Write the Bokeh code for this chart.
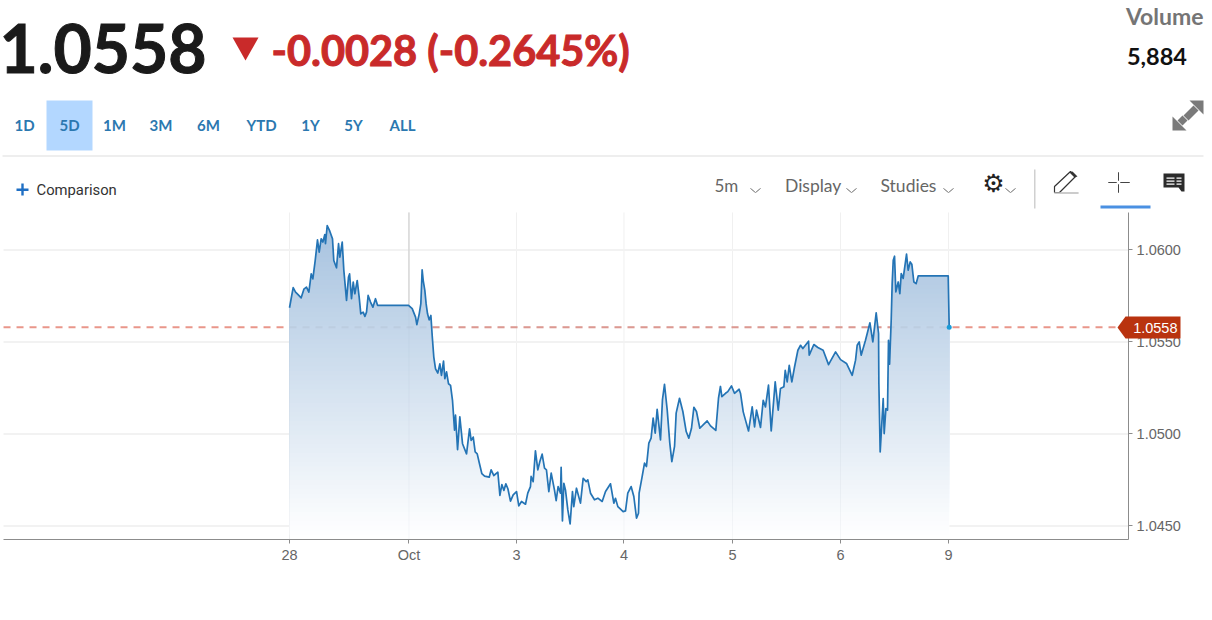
import numpy as np
from bokeh.plotting import figure
from bokeh.embed import file_html
from bokeh.resources import INLINE
from bokeh.models import Label, PolyAnnotation, FixedTicker, PrintfTickFormatter, Range1d

# x is a position in trading days after the "28" tick
days_a = [0,.015,.034,.056,.077,.108,.133,.157,.179,.201,.216,.238,.259,.275,.293,.309,.327,.333,.349,.373,.398,.410,.435,.454,.466,.488,.503,.528,.546,.556,.574,.590,.605,.627,.645,.660,.682,.698,.713,.728,.750,.772,.796,.815,1.102,1.136,1.167,1.179,1.201,1.216,1.228,1.238,1.253,1.265,1.278,1.293,1.309,1.321,1.336,1.352,1.373,1.392,1.407,1.426,1.438,1.454,1.472,1.491,1.509,1.528,1.537,1.556,1.577,1.602,1.639,1.667,1.682,1.701,1.719,1.738,1.759,1.781,1.806,1.849,1.867,1.892,1.929,1.948,1.966,1.985,2.003,2.022,2.046]
price_a = [1.05686,1.05735,1.05795,1.05771,1.05759,1.05740,1.05787,1.05798,1.05771,1.05870,1.05843,1.05943,1.06055,1.05988,1.06061,1.06043,1.06084,1.06034,1.06133,1.06102,1.06061,1.05943,1.05903,1.06034,1.05961,1.06043,1.05889,1.05726,1.05852,1.05870,1.05735,1.05825,1.05762,1.05834,1.05744,1.05653,1.05662,1.05639,1.05662,1.05753,1.05717,1.05689,1.05735,1.05699,1.05699,1.05681,1.05635,1.05594,1.05653,1.05708,1.05892,1.05834,1.05780,1.05707,1.05653,1.05620,1.05644,1.05535,1.05418,1.05354,1.05331,1.05381,1.05318,1.05396,1.05300,1.05337,1.05273,1.05264,1.05183,1.05020,1.05102,1.04915,1.05093,1.04947,1.04892,1.05028,1.04965,1.04983,1.04902,1.04892,1.04838,1.04784,1.04771,1.04765,1.04805,1.04774,1.04792,1.04666,1.04725,1.04693,1.04729,1.04702,1.04635]
days_b = [2.071,2.102,2.123,2.148,2.185,2.206,2.231,2.237,2.256,2.277,2.299,2.318,2.339,2.361,2.379,2.401,2.423,2.453,2.469,2.487,2.509,2.515,2.527,2.540,2.555,2.577,2.598,2.620,2.632,2.657,2.694,2.719,2.747,2.762,2.787,2.824,2.855,2.895,2.926,2.972,3.003,3.018,3.040,3.065,3.089,3.111,3.132,3.163,3.188,3.213,3.231,3.237,3.265,3.287,3.305,3.327,3.348,3.367,3.386,3.404,3.435,3.453,3.472,3.497,3.521,3.540,3.565,3.580,3.611,3.642,3.673,3.697,3.722,3.744,3.768,3.799,3.830,3.867,3.898,3.947,3.972,3.990,4.003,4.037,4.058,4.092,4.120,4.163]
price_b = [1.04669,1.04687,1.04609,1.04633,1.04618,1.04678,1.04714,1.04769,1.04741,1.04908,1.04805,1.04850,1.04890,1.04814,1.04805,1.04687,1.04787,1.04696,1.04638,1.04714,1.04678,1.04819,1.04527,1.04732,1.04696,1.04587,1.04511,1.04687,1.04605,1.04705,1.04624,1.04759,1.04741,1.04750,1.04678,1.04642,1.04651,1.04633,1.04687,1.04729,1.04624,1.04650,1.04605,1.04591,1.04578,1.04582,1.04678,1.04714,1.04660,1.04542,1.04569,1.04678,1.04768,1.04841,1.04823,1.04950,1.04977,1.05086,1.05004,1.05134,1.04968,1.05185,1.05270,1.05131,1.04950,1.04850,1.04932,1.05113,1.05194,1.05122,1.05013,1.04977,1.05031,1.05145,1.05122,1.05031,1.05049,1.05071,1.05044,1.05019,1.05194,1.05258,1.05203,1.05221,1.05230,1.05261,1.05221,1.05243]
days_c = [4.176,4.201,4.222,4.250,4.284,4.306,4.324,4.361,4.386,4.407,4.435,4.460,4.497,4.525,4.546,4.577,4.590,4.608,4.627,4.651,4.676,4.707,4.732,4.753,4.806,4.812,4.855,4.892,4.941,4.991,5.056,5.102,5.157,5.210,5.241,5.256,5.275,5.293,5.333,5.349,5.374,5.401,5.432,5.454,5.457,5.469,5.497,5.506,5.522,5.537,5.546,5.556,5.571,5.580,5.590,5.602,5.614,5.636,5.651,5.664,5.682,5.713,5.728,5.747,5.762,5.781,5.802,5.821,6.099,6.108]
price_c = [1.05220,1.05120,1.05075,1.05016,1.05147,1.05038,1.05129,1.05035,1.05183,1.05147,1.05265,1.05016,1.05283,1.05129,1.05247,1.05256,1.05346,1.05283,1.05373,1.05283,1.05364,1.05455,1.05482,1.05464,1.05504,1.05428,1.05486,1.05470,1.05455,1.05377,1.05446,1.05404,1.05383,1.05319,1.05401,1.05482,1.05500,1.05428,1.05509,1.05546,1.05604,1.05500,1.05658,1.05546,1.05274,1.04902,1.05192,1.05002,1.05138,1.05129,1.05509,1.05379,1.05618,1.05817,1.05944,1.05966,1.05772,1.05826,1.05763,1.05872,1.05845,1.05977,1.05890,1.05935,1.05923,1.05826,1.05817,1.05859,1.05859,1.05580]

tick_days = [0, 1.106, 2.102, 3.097, 4.102, 5.102, 6.102]
tick_labels = ["28", "Oct", "3", "4", "5", "6", "9"]
price_ticks = [1.0450, 1.0500, 1.0550, 1.0600]
last_price = 1.0558
range_tabs = ["1D", "5D", "1M", "3M", "6M", "YTD", "1Y", "5Y", "ALL"]

days = np.array(days_a + days_b + days_c)
prices = np.array(price_a + price_b + price_c)

W, H = 1212, 620
x_lo, x_hi = -2.648, 7.769   # extents of the plot box, in days
y0, y1 = 1.04427, 1.06204    # extents of the plot box, in price
p = figure(width=W, height=H, output_backend="svg", toolbar_location=None,
           x_range=Range1d(-2.676, 8.546), y_range=Range1d(1.03986, 1.07356),
           y_axis_location="right", min_border=0,
           outline_line_color=None, background_fill_color="white")
p.grid.visible = False

# axes
p.xaxis.ticker = FixedTicker(ticks=tick_days)
p.xaxis.major_label_overrides = dict(zip(tick_days, tick_labels))
p.yaxis.ticker = FixedTicker(ticks=price_ticks)
p.yaxis.formatter = PrintfTickFormatter(format="%.4f")
p.xaxis.fixed_location = y0
p.yaxis.fixed_location = x_hi
p.xaxis.bounds = (x_lo, x_hi)
p.yaxis.bounds = (y0, y1)
for ax in (p.xaxis[0], p.yaxis[0]):
    ax.axis_line_color = "#8c8c8c"
    ax.major_tick_line_color = "#8c8c8c"
    ax.major_tick_in = 0
    ax.major_tick_out = 4
    ax.minor_tick_line_color = None
    ax.major_label_text_font = "Liberation Sans"
    ax.major_label_text_font_size = "14.5px"
    ax.major_label_text_color = "#666666"
    ax.major_label_standoff = 4

n = len(tick_days)
p.segment(tick_days, [y0] * n, tick_days, [y1] * n, line_color="#f0f0f0", line_width=1, level="underlay")
m = len(price_ticks)
p.segment([x_lo] * m, price_ticks, [x_hi] * m, price_ticks, line_color="#f2f2f2", line_width=2, level="underlay")
p.segment([tick_days[1]], [y0], [tick_days[1]], [y1], line_color="#c8c8c8", line_width=1, level="underlay")
p.segment([x_lo], [last_price], [x_hi], [last_price], line_color="#e9968a", line_width=2, line_dash="7 6", level="underlay")

# gradient fill: stacked areas, each darker band covering the price above its level
top_rgb = np.array([166, 194, 223])
levels = np.linspace(y0, prices.max(), 70)
for lv in levels:
    f = (lv - y0) / (prices.max() - y0)
    c = 255 + (top_rgb - 255) * f
    col = "#%02x%02x%02x" % tuple(int(round(v)) for v in c)
    p.varea(days, y1=np.minimum(prices, lv), y2=prices, fill_color=col, fill_alpha=1)

# lines showing faintly through the fill
p.segment([days[0]], [last_price], [days[-1]], [last_price], line_color="#9aa9b8", line_alpha=0.18, line_width=2, line_dash="7 6")
p.segment(tick_days[:-1], [y0] * (n - 1), tick_days[:-1], np.interp(tick_days[:-1], days, prices),
          line_color="#8090a0", line_alpha=0.07, line_width=1)

p.line(days, prices, line_color="#2474b5", line_width=1.7, line_join="round")
p.scatter([days[-1]], [prices[-1]], size=5, fill_color="#1a9bd7", line_color=None)


def poly(xs, ys, fill=None, line=None, lw=1.0):
    p.add_layout(PolyAnnotation(xs=list(xs), ys=list(ys), xs_units="canvas", ys_units="canvas",
                                fill_color=fill or "white", fill_alpha=1 if fill else 0,
                                line_color=line or "white", line_alpha=1 if line else 0, line_width=lw))


def stroke(xs, ys, color, lw=1.0):
    xs = list(xs); ys = list(ys)
    poly(xs + xs[-2::-1], ys + ys[-2::-1], None, color, lw)


def txt(x, y, s, size, color, font="Lato", style="normal", align="left", outline=None):
    p.add_layout(Label(x=x, y=y, x_units="canvas", y_units="canvas", text=s, text_font=font,
                       text_font_size=f"{size}px", text_color=color, text_font_style=style,
                       text_align=align, text_baseline="middle", text_outline_color=outline))


# header
txt(-1, 47.5, "1.0558", 66, "#1a1a1a", style="bold", outline="#1a1a1a")
poly([232, 258, 245], [37, 37, 60], "#c92a2a")
txt(271, 49, "-0.0028 (-0.2645%)", 41.5, "#c92a2a", style="bold", outline="#c92a2a")
txt(1203, 15, "Volume", 23, "#757575", style="bold", align="right")
txt(1186.5, 56, "5,884", 23.5, "#111111", style="bold", align="right")

# range tabs
poly([46, 92, 92, 46], [100, 100, 150, 150], "#b3d7ff")
tab_centres = [24, 69, 114, 160.5, 208, 261, 310, 353, 402]
for cx, s in zip(tab_centres, range_tabs):
    txt(cx, 124, s, 15, "#2b78b0", style="bold", align="center")
poly([2, 1203, 1203, 2], [155, 155, 156, 156], "#dedede")

# expand arrows
poly([1189, 1203, 1203], [100, 100, 114], "#7a7a7a")
poly([1193, 1198, 1188, 1183], [105, 110, 120, 115], "#7a7a7a")
poly([1172, 1172, 1186], [116, 130, 130], "#7a7a7a")
poly([1177, 1182, 1187, 1182], [120, 115, 120, 125], "#7a7a7a")

# toolbar row
poly([16, 28, 28, 16], [188, 188, 190.5, 190.5], "#1f6fc4")
poly([20.8, 23.2, 23.2, 20.8], [183, 183, 195, 195], "#1f6fc4")
txt(36, 189.5, "Comparison", 14.8, "#333333", font="Roboto")
txt(714, 184.5, "5m", 17, "#666666")
txt(784.5, 184.5, "Display", 17.5, "#666666")
txt(880, 184.5, "Studies", 17.5, "#666666")
for cx in (755, 851, 948, 1010):
    stroke([cx - 5, cx, cx + 5], [188, 192, 188], "#999999", 1)
txt(993, 183, "\u2699", 25, "#222222", font="DejaVu Sans", style="bold", align="center")
poly([1033.5, 1035, 1035, 1033.5], [169, 169, 208, 208], "#d0d0d0")

# pencil
stroke([1054, 1054, 1070, 1075, 1059, 1054], [192, 186, 171, 176, 192, 192], "#333333", 1.2)
poly([1069, 1072, 1077, 1074], [172, 171, 176, 177], "#333333")
stroke([1054, 1078], [192.5, 192.5], "#bbbbbb", 1)
# crosshair
for xs, ys in (([1108, 1116], [182, 182]), ([1120, 1129], [182, 182]),
               ([1118, 1118], [172, 180]), ([1118, 1118], [184, 192])):
    stroke(xs, ys, "#444444", 1)
poly([1100, 1150, 1150, 1100], [205, 205, 208, 208], "#4a90e2")
# comments
poly([1163, 1184, 1184, 1181, 1178, 1163], [173, 173, 191, 191, 187, 187], "#2b2b2b")
for yy in (177, 180, 183):
    poly([1166, 1174, 1174, 1166], [yy, yy, yy + 1.2, yy + 1.2], "#ffffff")
    poly([1176, 1181, 1181, 1176], [yy, yy, yy + 1.2, yy + 1.2], "#ffffff")

# last price badge
poly([1117, 1125, 1180, 1180, 1125], [327, 316, 316, 338, 338], "#b9330f")
txt(1177, 327, "1.0558", 14.5, "#ffffff", font="Liberation Sans", align="right")

open("out.html", "w").write(file_html(p, INLINE))
